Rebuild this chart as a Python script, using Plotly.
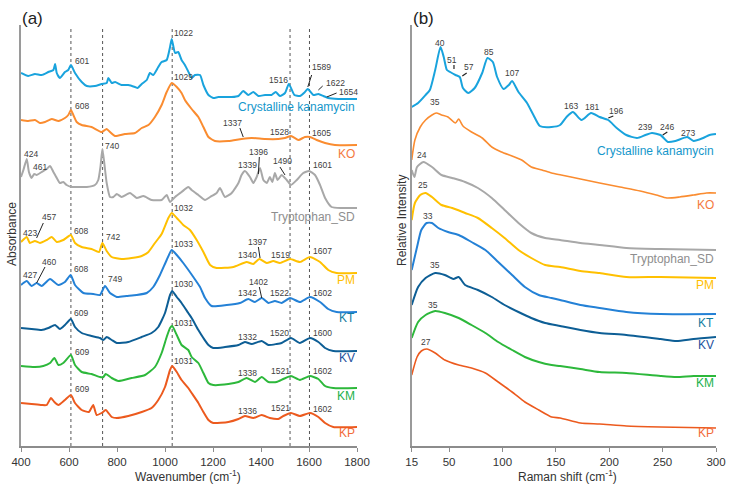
import plotly.graph_objects as go

# ---------------- data (arbitrary stacked units) ----------------
# panel (a) FTIR, wavenumber in cm-1
A_KANA_X = [400, 430, 458, 486, 514, 535, 542, 549, 562, 583, 597, 608, 625, 653, 674, 708, 736, 757, 764, 778,
            792, 819, 847, 875, 886, 903, 924, 937, 951, 972, 986, 1007, 1021, 1028, 1042, 1055, 1069, 1083, 1100,
            1111, 1125, 1146, 1160, 1181, 1201, 1222, 1250, 1278, 1306, 1326, 1347, 1368, 1389, 1417, 1444, 1461,
            1479, 1500, 1516, 1539, 1562, 1583, 1595, 1618, 1639, 1660, 1680, 1722, 1800]
A_KANA_Y = [373, 370, 372, 371, 374, 376, 382, 373, 368, 374, 376, 381, 373, 364, 360, 360, 362, 363, 368, 363,
            364, 361, 361, 359, 358, 362, 366, 373, 371, 379, 384, 386, 399, 407, 393, 394, 386, 381, 373,
            368, 371, 371, 361, 351, 348, 349, 349, 349, 350, 355, 351, 354, 350, 351, 351, 354,
            350, 353, 362, 351, 350, 354, 357, 351, 352, 350, 348, 347, 347]

A_KO_X = [400, 430, 458, 479, 500, 528, 556, 583, 597, 608, 618, 632, 653, 694, 736, 757, 771, 792, 833, 875,
          903, 931, 958, 986, 1007, 1028, 1049, 1069, 1083, 1111, 1139, 1160, 1181, 1208, 1264, 1319, 1361,
          1417, 1472, 1500, 1525, 1556, 1583, 1604, 1632, 1667, 1708, 1800]
A_KO_Y = [326, 325, 326, 323, 324, 327, 325, 328, 331, 336, 331, 324, 321, 319, 314, 317, 314, 310, 312, 313,
          318, 321, 329, 341, 354, 363, 359, 353, 346, 337, 329, 319, 309, 305, 305, 307, 308,
          307, 307, 308, 310, 306, 309, 309, 306, 303, 301, 301]

A_TRP_X = [400, 410, 424, 433, 444, 455, 465, 486, 507, 521, 535, 549, 562, 576, 590, 611, 639, 674, 708, 722,
           731, 739, 747, 757, 771, 785, 799, 819, 854, 882, 910, 944, 986, 1007, 1021, 1042, 1069, 1097, 1111,
           1139, 1167, 1188, 1215, 1229, 1250, 1278, 1306, 1319, 1333, 1354, 1368, 1382, 1396, 1410, 1424,
           1437, 1447, 1458, 1469, 1486, 1507, 1525, 1549, 1576, 1600, 1625, 1646, 1667, 1694, 1736, 1800]
A_TRP_Y = [269, 276, 287, 274, 268, 272, 271, 274, 277, 280, 274, 268, 263, 264, 261, 259, 259, 259, 261, 266,
           279, 297, 283, 263, 249, 249, 252, 249, 253, 248, 250, 246, 246, 251, 244, 249, 254, 259, 256,
           251, 246, 249, 253, 258, 249, 253, 263, 271, 275, 269, 263, 269, 278, 266, 263,
           269, 264, 273, 266, 271, 266, 261, 266, 273, 275, 271, 261, 248, 239, 238, 238]

A_PM_X = [400, 424, 437, 458, 479, 507, 528, 549, 576, 608, 625, 653, 694, 725, 739, 757, 778, 819, 861, 903,
          931, 958, 986, 1014, 1028, 1049, 1076, 1104, 1132, 1160, 1188, 1215, 1285, 1340, 1368, 1393, 1424,
          1451, 1479, 1521, 1562, 1604, 1646, 1680, 1715, 1800]
A_PM_Y = [204, 209, 203, 205, 203, 206, 209, 204, 206, 211, 203, 199, 197, 194, 203, 195, 189, 187, 188, 190,
          194, 203, 212, 228, 233, 228, 221, 216, 206, 194, 181, 178, 179, 184, 182, 187, 183,
          185, 183, 187, 184, 189, 184, 176, 173, 173]

A_KT_X = [400, 424, 444, 465, 486, 521, 556, 583, 607, 625, 660, 701, 729, 750, 771, 799, 840, 882, 924, 951,
          979, 1007, 1028, 1049, 1076, 1118, 1146, 1167, 1194, 1257, 1312, 1347, 1375, 1403, 1431, 1458, 1486,
          1521, 1562, 1604, 1646, 1680, 1715, 1800]
A_KT_Y = [161, 165, 160, 163, 160, 167, 161, 164, 171, 161, 153, 152, 151, 160, 153, 149, 150, 151, 153, 159,
          171, 186, 196, 191, 183, 169, 159, 148, 140, 141, 143, 147, 144, 148, 143, 145, 143,
          148, 144, 149, 144, 137, 134, 134]

A_KV_X = [400, 444, 486, 514, 542, 562, 583, 608, 625, 653, 694, 729, 743, 757, 778, 799, 847, 903, 944, 972,
          1000, 1021, 1030, 1049, 1069, 1097, 1111, 1139, 1160, 1181, 1201, 1250, 1306, 1333, 1361, 1403, 1431,
          1465, 1486, 1525, 1562, 1604, 1639, 1667, 1701, 1800]
A_KV_Y = [118, 117, 116, 118, 121, 117, 121, 127, 119, 113, 110, 108, 106, 109, 106, 103, 104, 109, 113, 119,
          133, 151, 155, 149, 143, 133, 128, 116, 108, 101, 98, 99, 101, 104, 102, 105, 101,
          102, 103, 108, 103, 108, 104, 98, 95, 95]

A_KM_X = [400, 458, 493, 521, 539, 556, 576, 608, 625, 653, 694, 729, 743, 753, 778, 806, 861, 917, 958, 986,
          1007, 1021, 1030, 1049, 1069, 1097, 1111, 1139, 1160, 1181, 1201, 1264, 1306, 1340, 1375, 1403, 1431,
          1465, 1493, 1525, 1562, 1604, 1639, 1667, 1701, 1800]
A_KM_Y = [80, 79, 80, 83, 88, 81, 83, 91, 81, 74, 72, 69, 69, 72, 68, 65, 68, 71, 79, 93,
          109, 118, 120, 111, 101, 96, 89, 83, 73, 63, 61, 62, 64, 68, 64, 69, 64,
          64, 67, 70, 66, 70, 67, 60, 58, 58]

A_KP_X = [400, 444, 486, 507, 525, 539, 556, 583, 608, 625, 653, 683, 701, 715, 736, 753, 778, 799, 847, 903,
          944, 972, 1000, 1021, 1030, 1049, 1069, 1097, 1111, 1139, 1160, 1181, 1201, 1264, 1306, 1333, 1368,
          1403, 1437, 1472, 1493, 1525, 1562, 1604, 1639, 1667, 1701, 1800]
A_KP_Y = [43, 42, 41, 41, 48, 44, 41, 46, 51, 43, 36, 34, 41, 31, 33, 36, 29, 28, 30, 34,
          38, 46, 59, 76, 80, 74, 66, 58, 53, 43, 34, 26, 23, 24, 27, 30, 28,
          31, 28, 27, 30, 33, 30, 33, 29, 23, 19, 19]

# panel (b) low-frequency Raman, shift in cm-1
B_KANA_X = [15, 21, 28, 32, 37, 42, 45, 48, 51, 56, 60, 63, 68, 74, 81, 86, 91, 95, 101, 106, 109, 115, 123,
            129, 135, 146, 154, 160, 166, 174, 183, 191, 199, 207, 216, 226, 234, 240, 248, 255, 262, 273,
            279, 288, 294, 300]
B_KANA_Y = [339, 343, 351, 356, 376, 399, 389, 376, 374, 371, 369, 358, 353, 358, 373, 388, 384, 369, 357, 361,
            365, 354, 343, 331, 320, 319, 321, 329, 334, 326, 333, 329, 326, 318, 311, 308, 311, 313, 311,
            304, 305, 309, 305, 308, 311, 312]

B_KO_X = [15, 18, 23, 28, 34, 38, 43, 49, 56, 59, 63, 71, 81, 90, 99, 109, 118, 127, 137, 146, 155, 173, 191,
          210, 229, 244, 254, 266, 279, 291, 300]
B_KO_Y = [286, 306, 319, 326, 331, 333, 331, 329, 323, 327, 320, 314, 308, 299, 294, 290, 286, 279, 276, 273,
          271, 267, 263, 259, 255, 251, 248, 249, 251, 253, 253]

B_TRP_X = [15, 17.5, 20, 26, 34, 43, 53, 65, 77, 90, 102, 115, 127, 140, 154, 173, 191, 216, 248, 300]
B_TRP_Y = [276, 269, 279, 284, 279, 271, 268, 264, 258, 248, 236, 223, 213, 208, 206, 203, 201, 198, 197, 196]

B_PM_X = [15, 18, 23, 28, 34, 43, 53, 65, 77, 90, 102, 115, 127, 140, 154, 173, 191, 216, 248, 300]
B_PM_Y = [226, 243, 251, 253, 249, 241, 238, 233, 228, 218, 208, 196, 188, 181, 179, 175, 173, 169, 169, 168]

B_KT_X = [15, 20, 24, 29, 34, 40, 49, 59, 71, 84, 96, 109, 121, 134, 146, 154, 173, 191, 216, 248, 300]
B_KT_Y = [176, 199, 216, 223, 223, 218, 214, 211, 204, 196, 184, 171, 159, 151, 148, 146, 141, 138, 134, 132, 132]

B_KV_X = [15, 21, 28, 37, 46, 54, 59, 65, 77, 90, 102, 115, 127, 140, 154, 173, 191, 216, 248, 263, 279, 300]
B_KV_Y = [141, 159, 168, 173, 171, 167, 169, 161, 156, 149, 141, 134, 128, 123, 120, 116, 113, 111, 107, 105,
          107, 109]

B_KM_X = [15, 21, 28, 37, 46, 59, 71, 84, 96, 109, 121, 134, 146, 154, 173, 191, 216, 248, 263, 279, 300]
B_KM_Y = [108, 124, 131, 135, 133, 128, 121, 113, 104, 96, 89, 84, 81, 80, 77, 74, 73, 70, 69, 70, 70]

B_KP_X = [15, 20, 24, 29, 37, 46, 59, 71, 84, 96, 109, 121, 134, 146, 154, 173, 191, 216, 248, 300]
B_KP_Y = [71, 89, 95, 97, 93, 86, 81, 78, 73, 64, 54, 44, 36, 29, 28, 23, 22, 20, 19, 18]

NAMES = ["Crystalline kanamycin", "KO", "Tryptophan_SD", "PM", "KT", "KV", "KM", "KP"]
MARKED_BANDS = [608, 740, 1030, 1521, 1602]
A_TICKS = [400, 600, 800, 1000, 1200, 1400, 1600, 1800]
B_TICKS = [15, 50, 100, 150, 200, 250, 300]

# ---------------- styling ----------------
LINE_COLORS = ["#19a3dd", "#fa8c30", "#a8a8a8", "#ffc000", "#2481d6", "#0d5e95", "#2db83b", "#ec5a1e"]
LABEL_COLORS = ["#1597cb", "#f47a3e", "#8e8e8e", "#ffc000", "#137c9e", "#23509c", "#22b14c", "#f26b3a"]
FONT = "Arial, Liberation Sans, sans-serif"
PEAK_COLOR = "#404040"

W, H, TOP, BOT = 732, 489, 25, 446


def px(x):
    return x / W


def py(y):
    return (BOT - y) / (BOT - TOP)


fig = go.Figure()

a_series = [(A_KANA_X, A_KANA_Y), (A_KO_X, A_KO_Y), (A_TRP_X, A_TRP_Y), (A_PM_X, A_PM_Y),
            (A_KT_X, A_KT_Y), (A_KV_X, A_KV_Y), (A_KM_X, A_KM_Y), (A_KP_X, A_KP_Y)]
b_series = [(B_KANA_X, B_KANA_Y), (B_KO_X, B_KO_Y), (B_TRP_X, B_TRP_Y), (B_PM_X, B_PM_Y),
            (B_KT_X, B_KT_Y), (B_KV_X, B_KV_Y), (B_KM_X, B_KM_Y), (B_KP_X, B_KP_Y)]

for i, (xs, ys) in enumerate(a_series):
    fig.add_trace(go.Scatter(x=xs, y=ys, mode="lines", name=NAMES[i], xaxis="x", yaxis="y",
                             line=dict(color=LINE_COLORS[i], width=2, shape="spline", smoothing=0.5),
                             hoverinfo="skip", showlegend=False))
for i, (xs, ys) in enumerate(b_series):
    fig.add_trace(go.Scatter(x=xs, y=ys, mode="lines", name=NAMES[i], xaxis="x2", yaxis="y2",
                             line=dict(color=LINE_COLORS[i], width=2 if i not in (1, 7) else 1.6,
                                       shape="spline", smoothing=0.6),
                             hoverinfo="skip", showlegend=False))

ann = []

# series names at the right end of each panel
A_NAME_Y = [339, 292, 229, 166, 128, 88, 50, 13]
B_NAME_Y = [295, 241, 187, 161, 123, 101, 63, 13]
for i, name in enumerate(NAMES):
    ann.append(dict(x=1800, y=A_NAME_Y[i], xref="x", yref="y", text=name, showarrow=False,
                    xanchor="right", yanchor="middle", font=dict(size=12, color=LABEL_COLORS[i])))
    ann.append(dict(x=300, y=B_NAME_Y[i], xref="x2", yref="y2", text=name, showarrow=False,
                    xanchor="right", yanchor="middle", font=dict(size=12, color=LABEL_COLORS[i])))

# peak labels, panel (a): text, left x (cm-1), y
A_PEAK_LABELS = [
    ("601", 615, 385), ("1022", 1028, 413), ("1516", 1425, 366), ("1589", 1604, 379), ("1622", 1662, 363),
    ("1654", 1717, 354),
    ("608", 615, 340), ("1029", 1028, 369), ("1337", 1233, 323), ("1528", 1429, 314), ("1605", 1604, 313),
    ("424", 403, 292), ("461", 442, 279), ("740", 742, 300), ("1339", 1296, 281), ("1396", 1342, 294),
    ("1490", 1440, 285), ("1601", 1607, 281),
    ("423", 400, 213), ("457", 479, 229), ("608", 611, 215), ("742", 746, 209), ("1032", 1028, 238),
    ("1340", 1296, 191), ("1397", 1337, 204), ("1519", 1433, 191), ("1607", 1607, 195),
    ("427", 400, 171), ("460", 479, 184), ("608", 611, 177), ("749", 754, 167), ("1033", 1028, 202),
    ("1342", 1296, 153), ("1402", 1340, 164), ("1522", 1429, 153), ("1602", 1608, 153),
    ("609", 611, 133), ("1030", 1028, 162), ("1332", 1296, 109), ("1520", 1429, 113), ("1600", 1607, 113),
    ("609", 615, 94), ("1031", 1028, 123), ("1338", 1296, 73), ("1521", 1433, 75), ("1602", 1607, 75),
    ("609", 615, 57), ("1031", 1028, 85), ("1336", 1296, 35), ("1521", 1433, 38), ("1602", 1607, 37),
]
for t, x, y in A_PEAK_LABELS:
    ann.append(dict(x=x, y=y, xref="x", yref="y", text=t, showarrow=False, xanchor="left",
                    yanchor="middle", font=dict(size=8.5, color=PEAK_COLOR)))

# peak labels, panel (b): text, centre x (cm-1), y
B_PEAK_LABELS = [
    ("40", 41.5, 403), ("51", 53.2, 386), ("57", 68.7, 379), ("85", 87.4, 394), ("107", 109, 373),
    ("163", 164.2, 340), ("181", 183.9, 339), ("196", 205.9, 335), ("239", 233.5, 319), ("246", 254.1, 319),
    ("273", 274, 313),
    ("35", 36.8, 344), ("24", 24.6, 291), ("25", 25.6, 261), ("33", 30.3, 230), ("35", 36.8, 181),
    ("35", 35, 141), ("27", 28.4, 104),
]
for t, x, y in B_PEAK_LABELS:
    ann.append(dict(x=x, y=y, xref="x2", yref="y2", text=t, showarrow=False, xanchor="center",
                    yanchor="middle", font=dict(size=8.5, color=PEAK_COLOR)))

# panel letters and axis titles (anchored at their centres)
TITLE_TEXTS = [
    ("(a)", 32, 19, 0, 17, "#222"),
    ("(b)", 423, 19, 0, 17, "#222"),
    ("Wavenumber (cm<sup>-1</sup>)", 188, 476, 0, 12, "#333"),
    ("Raman shift (cm<sup>-1</sup>)", 567, 476, 0, 12, "#333"),
    ("Absorbance", 12, 234, -90, 12, "#333"),
    ("Relative Intensity", 402, 221, -90, 12, "#333"),
]
for t, x, y, ang, size, col in TITLE_TEXTS:
    ann.append(dict(x=px(x), y=py(y), xref="paper", yref="paper", text=t, textangle=ang,
                    xanchor="center", yanchor="middle", showarrow=False,
                    font=dict(size=size, color=col)))

shapes = []
for b in MARKED_BANDS:
    shapes.append(dict(type="line", xref="x", yref="y", x0=b, x1=b, y0=0, y1=418, layer="below",
                       line=dict(color="#555", width=1, dash="dot")))

# leader lines from labels to shoulders
A_LEADERS = [((1595, 359), (1611, 371)), ((1639, 356), (1657, 360)), ((1674, 349), (1715, 353)),
             ((1312, 318), (1326, 309)), ((1393, 289), (1389, 272)), ((1479, 279), (1500, 271)),
             ((493, 223), (465, 208)), ((1389, 199), (1396, 188)), ((500, 179), (465, 163)),
             ((1393, 159), (1403, 148))]
B_LEADERS = [((54.6, 381), (54.6, 377)), ((62.4, 370), (66.5, 373)), ((199.1, 328), (203.8, 330)),
             ((250.1, 311), (254.4, 314))]
for (x0, y0), (x1, y1) in A_LEADERS:
    shapes.append(dict(type="line", xref="x", yref="y", x0=x0, y0=y0, x1=x1, y1=y1,
                       line=dict(color="#222", width=1)))
for (x0, y0), (x1, y1) in B_LEADERS:
    shapes.append(dict(type="line", xref="x2", yref="y2", x0=x0, y0=y0, x1=x1, y1=y1,
                       line=dict(color="#222", width=1.2)))

xcommon = dict(showline=True, linecolor="#8c8c8c", linewidth=1.5, ticks="outside", ticklen=4,
               tickcolor="#8c8c8c", showgrid=False, zeroline=False, automargin=False,
               tickfont=dict(size=11.5, color="#333"))
ycommon = dict(showline=True, linecolor="#9a9a9a", linewidth=2, showticklabels=False, ticks="",
               showgrid=False, zeroline=False, automargin=False, range=[0, BOT - TOP], domain=[0, 1])

fig.update_layout(
    width=W, height=H, autosize=False,
    margin=dict(l=0, r=0, t=TOP, b=H - BOT, pad=0),
    paper_bgcolor="white", plot_bgcolor="white",
    font=dict(family=FONT, color="#333"),
    xaxis=dict(domain=[px(21), px(357)], range=[400, 1800], tickvals=A_TICKS, anchor="y", **xcommon),
    yaxis=dict(anchor="x", **ycommon),
    xaxis2=dict(domain=[px(411.7), px(716)], range=[15, 300], tickvals=B_TICKS, anchor="y2", **xcommon),
    yaxis2=dict(anchor="x2", **ycommon),
    annotations=ann,
    shapes=shapes,
    showlegend=False,
)

# page body has a default 8px margin; drop it so the figure sits at the window origin
fig.write_html("out.html", config={"displayModeBar": False},
               post_script="document.body.style.margin='0';")
